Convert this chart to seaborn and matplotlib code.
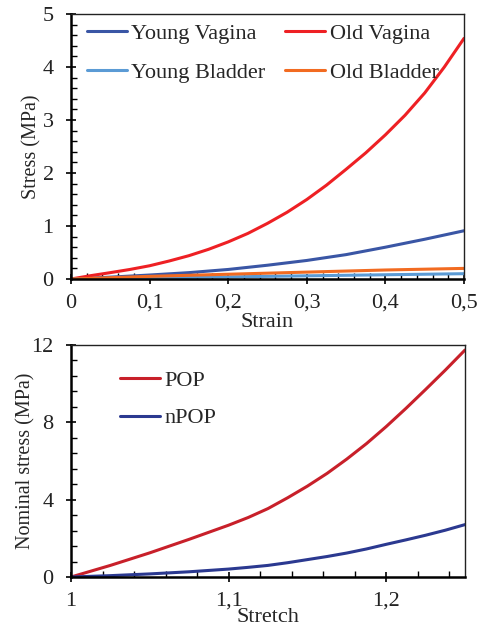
import numpy as np
import pandas as pd
import matplotlib
matplotlib.use("Agg")
import matplotlib.pyplot as plt
import seaborn as sns
from matplotlib.ticker import MultipleLocator, FuncFormatter

# ---- data ----
strain_fine = [0, 0.025, 0.05, 0.075, 0.1, 0.125, 0.15, 0.175, 0.2, 0.225, 0.25,
               0.275, 0.3, 0.325, 0.35, 0.375, 0.4, 0.425, 0.45, 0.475, 0.5]
old_vagina = [0, 0.063, 0.12, 0.18, 0.25, 0.34, 0.44, 0.56, 0.70, 0.86, 1.05,
              1.26, 1.50, 1.77, 2.07, 2.38, 2.72, 3.09, 3.51, 4.0, 4.54]
strain = [0, 0.05, 0.1, 0.15, 0.2, 0.25, 0.3, 0.35, 0.4, 0.45, 0.5]
young_vagina = [0, 0.035, 0.075, 0.12, 0.18, 0.26, 0.35, 0.46, 0.60, 0.75, 0.91]
young_bladder = [0, 0.01, 0.02, 0.03, 0.04, 0.05, 0.06, 0.07, 0.08, 0.09, 0.1]
old_bladder = [0, 0.025, 0.05, 0.07, 0.09, 0.11, 0.13, 0.15, 0.17, 0.185, 0.2]

stretch = [1.0, 1.025, 1.05, 1.075, 1.1, 1.1125, 1.125, 1.1375, 1.15, 1.1625,
           1.175, 1.1875, 1.2, 1.2125, 1.225, 1.2375, 1.25]
pop = [0, 0.6, 1.25, 1.95, 2.68, 3.08, 3.54, 4.1, 4.7, 5.36,
       6.1, 6.9, 7.78, 8.72, 9.7, 10.7, 11.74]
npop = [0, 0.07, 0.16, 0.27, 0.41, 0.5, 0.6, 0.74, 0.9, 1.06,
        1.24, 1.45, 1.69, 1.92, 2.16, 2.42, 2.71]

top_series = ["Young Vagina", "Old Vagina", "Young Bladder", "Old Bladder"]
top_colors = ["#3A56A5", "#EE2024", "#5B9BD5", "#F26B21"]
bot_series = ["POP", "nPOP"]
bot_colors = ["#C8202A", "#2B3990"]

df_top = pd.concat([
    pd.DataFrame({"Strain": x, "Stress": v, "series": n})
    for n, x, v in zip(top_series,
                       [strain, strain_fine, strain, strain],
                       [young_vagina, old_vagina, young_bladder, old_bladder])
])
df_bot = pd.concat([
    pd.DataFrame({"Stretch": stretch, "Stress": v, "series": n})
    for n, v in zip(bot_series, [pop, npop])
])

sns.set_theme(style="white")
plt.rcParams['font.family'] = ['Liberation Serif', 'DejaVu Serif']

FS = 16
fig = plt.figure(figsize=(4.82, 6.31), dpi=100)
ax1 = fig.add_axes([71/482, 1-279/631, (464-71)/482, (279-14)/631])
ax2 = fig.add_axes([71/482, 1-577/631, (465-71)/482, (577-345)/631])

comma = FuncFormatter(lambda v, p: ("%g" % round(v, 3)).replace(".", ","))

# top
sns.lineplot(data=df_top, x="Strain", y="Stress", hue="series", hue_order=top_series,
             palette=top_colors, linewidth=2.2, ax=ax1, legend=True)
ax1.set_xlim(0, 0.5)
ax1.set_ylim(0, 5)
ax1.xaxis.set_major_locator(MultipleLocator(0.1))
ax1.xaxis.set_minor_locator(MultipleLocator(0.02))
ax1.yaxis.set_major_locator(MultipleLocator(1))
ax1.yaxis.set_minor_locator(MultipleLocator(0.2))
ax1.xaxis.set_major_formatter(comma)
ax1.set_xlabel("Strain", fontsize=FS, labelpad=0)
ax1.set_ylabel("Stress (MPa)", fontsize=14.5, labelpad=1)
h, l = ax1.get_legend_handles_labels()
d = dict(zip(l, h))
order = ["Young Vagina", "Young Bladder", "Old Vagina", "Old Bladder"]
ax1.legend([d[k] for k in order], order, ncol=2, frameon=False, loc="upper left",
           fontsize=FS, handlelength=1.8, handletextpad=0.2, columnspacing=0.9,
           labelspacing=0.85, bbox_to_anchor=(0.04, 0.965), borderaxespad=0,
           borderpad=0)

# bottom
sns.lineplot(data=df_bot, x="Stretch", y="Stress", hue="series", hue_order=bot_series,
             palette=bot_colors, linewidth=2.2, ax=ax2, legend=True)
ax2.set_xlim(1.0, 1.25)
ax2.set_ylim(0, 12)
ax2.xaxis.set_major_locator(MultipleLocator(0.1))
ax2.xaxis.set_minor_locator(MultipleLocator(0.02))
ax2.yaxis.set_major_locator(MultipleLocator(4))
ax2.yaxis.set_minor_locator(MultipleLocator(0.8))
ax2.xaxis.set_major_formatter(comma)
ax2.set_xlabel("Stretch", fontsize=FS, labelpad=-2)
ax2.set_ylabel("Nominal stress (MPa)", fontsize=14.5, labelpad=-3)
h, l = ax2.get_legend_handles_labels()
ax2.legend(h, l, ncol=1, frameon=False, loc="upper left", fontsize=FS,
           handlelength=1.8, handletextpad=0.2, labelspacing=0.75,
           bbox_to_anchor=(0.124, 0.89), borderaxespad=0, borderpad=0)

for ax in (ax1, ax2):
    for s in ax.spines.values():
        s.set_color("#222222")
        s.set_linewidth(1.0)
    ax.spines["left"].set_linewidth(1.8)
    ax.spines["bottom"].set_linewidth(1.8)
    ax.spines["left"].set_color("black")
    ax.spines["bottom"].set_color("black")
    ax.tick_params(which="major", direction="inout", length=7, width=1.2,
                   labelsize=FS, color="black", labelcolor="#222222",
                   left=True, bottom=True)
    ax.tick_params(which="minor", direction="in", length=4, width=1.0,
                   left=True, bottom=True, color="black")
    ax.tick_params(axis="x", which="major", pad=7)
    ax.tick_params(axis="y", which="major", pad=9)

fig.savefig("out.png", dpi=100)
